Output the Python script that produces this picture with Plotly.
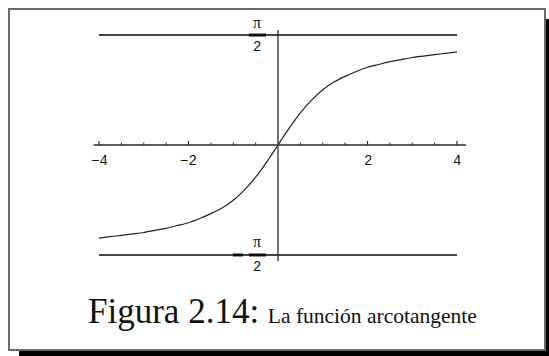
import plotly.graph_objects as go
import math

# Sampled points of the arctangent curve
x_vals = [-4.0, -3.75, -3.5, -3.25, -3.0, -2.75, -2.5, -2.25, -2.0, -1.75, -1.5, -1.25,
          -1.0, -0.75, -0.5, -0.25, 0.0, 0.25, 0.5, 0.75, 1.0, 1.25, 1.5, 1.75,
          2.0, 2.25, 2.5, 2.75, 3.0, 3.25, 3.5, 3.75, 4.0]
y_vals = [-1.33, -1.31, -1.29, -1.27, -1.25, -1.22, -1.19, -1.15, -1.11, -1.05, -0.98, -0.90,
          -0.79, -0.64, -0.46, -0.24, 0.0, 0.24, 0.46, 0.64, 0.79, 0.90, 0.98, 1.05,
          1.11, 1.15, 1.19, 1.22, 1.25, 1.27, 1.29, 1.31, 1.33]

x_tick_vals = [-4, -2, 2, 4]
x_tick_text = ["-4", "-2", "2", "4"]
x_minor_ticks = [-3.5, -3, -2.5, -1.5, -1, -0.5, 0.5, 1, 1.5, 2.5, 3, 3.5]
asymptotes = [math.pi / 2, -math.pi / 2]
caption_main = "Figura 2.14:"
caption_rest = "La función arcotangente"

W, H = 549, 356
X0_PX, PX_PER_X = 278, 44.75
Y0_PX, PX_PER_Y = 145, 70.0
x_range = [-X0_PX / PX_PER_X, (W - X0_PX) / PX_PER_X]
y_range = [(Y0_PX - H) / PX_PER_Y, Y0_PX / PX_PER_Y]

AX = "#2a2a2a"
MONO = "Liberation Mono, Courier New, monospace"
SERIF = "Liberation Serif, Times New Roman, serif"
fig = go.Figure()

# curve
fig.add_trace(go.Scatter(x=x_vals, y=y_vals, mode="lines",
                         line=dict(color="#222222", width=1.2, shape="spline", smoothing=0.6),
                         hoverinfo="skip", showlegend=False))

shapes = []
# horizontal asymptotes
for a in asymptotes:
    shapes.append(dict(type="line", xref="x", yref="y", x0=-4, x1=4, y0=a, y1=a,
                       line=dict(color="#444444", width=2)))
# x axis
shapes.append(dict(type="line", xref="x", yref="y", x0=-4.12, x1=4.2, y0=0, y1=0,
                   line=dict(color=AX, width=1.3)))
# y axis
shapes.append(dict(type="line", xref="x", yref="y", x0=0, x1=0,
                   y0=-math.pi / 2 - 6 / PX_PER_Y, y1=math.pi / 2 + 5 / PX_PER_Y,
                   line=dict(color=AX, width=1.3)))
# ticks on the x axis
for t in x_tick_vals:
    shapes.append(dict(type="line", xref="x", yref="y", x0=t, x1=t, y0=0, y1=4 / PX_PER_Y,
                       line=dict(color=AX, width=1.2)))
for t in x_minor_ticks:
    shapes.append(dict(type="line", xref="x", yref="y", x0=t, x1=t, y0=0, y1=2.5 / PX_PER_Y,
                       line=dict(color=AX, width=1)))
# fraction bars of the pi/2 labels
for a in asymptotes:
    shapes.append(dict(type="line", xref="x", yref="y",
                       x0=(249 - X0_PX) / PX_PER_X, x1=(266 - X0_PX) / PX_PER_X, y0=a, y1=a,
                       line=dict(color="#111111", width=3)))
# minus sign of -pi/2
shapes.append(dict(type="line", xref="x", yref="y",
                   x0=(233 - X0_PX) / PX_PER_X, x1=(243 - X0_PX) / PX_PER_X,
                   y0=-math.pi / 2, y1=-math.pi / 2,
                   line=dict(color="#111111", width=3)))

# figure frame and its drop shadow
shapes.append(dict(type="rect", xref="paper", yref="paper",
                   x0=19 / W, x1=1, y0=0, y1=1 - 351 / H,
                   line=dict(width=0), fillcolor="black"))
shapes.append(dict(type="rect", xref="paper", yref="paper",
                   x0=546 / W, x1=1, y0=0, y1=1 - 19 / H,
                   line=dict(width=0), fillcolor="black"))
shapes.append(dict(type="rect", xref="paper", yref="paper",
                   x0=9 / W, x1=545 / W, y0=1 - 350 / H, y1=1 - 9 / H,
                   line=dict(color="#6a6a6a", width=2), fillcolor="rgba(0,0,0,0)"))

annotations = []
lab_x = (257 - X0_PX) / PX_PER_X
for t, s in zip(x_tick_vals, x_tick_text):
    annotations.append(dict(x=t, y=-16 / PX_PER_Y, xref="x", yref="y", text=s.replace("-", "\u2212"),
                            showarrow=False, font=dict(family=MONO, size=14, color="#111"),
                            xanchor="center", yanchor="middle"))
for a in asymptotes:
    annotations.append(dict(x=lab_x, y=a + 13 / PX_PER_Y, xref="x", yref="y", text="\u03c0",
                            showarrow=False, font=dict(family=SERIF, size=16, color="#111"),
                            xanchor="center", yanchor="middle"))
    annotations.append(dict(x=lab_x, y=a - 12 / PX_PER_Y, xref="x", yref="y", text="2",
                            showarrow=False, font=dict(family=MONO, size=14, color="#111"),
                            xanchor="center", yanchor="middle"))

caption = (f"<span style='font-family:Liberation Serif;font-size:35px'>{caption_main} </span>"
           f"<span style='font-family:Liberation Serif;font-size:21.5px'>{caption_rest}</span>")
annotations.append(dict(x=282 / W, y=1 - 311 / H, xref="paper", yref="paper",
                        text=caption, showarrow=False, xanchor="center", yanchor="middle",
                        font=dict(family=SERIF, size=21, color="#111")))

fig.update_layout(
    width=W, height=H, margin=dict(l=0, r=0, t=0, b=0),
    paper_bgcolor="white", plot_bgcolor="white",
    xaxis=dict(range=x_range, visible=False, fixedrange=True),
    yaxis=dict(range=y_range, visible=False, fixedrange=True),
    shapes=shapes, annotations=annotations, showlegend=False,
)

fig.write_html("out.html", config={"displayModeBar": False})
